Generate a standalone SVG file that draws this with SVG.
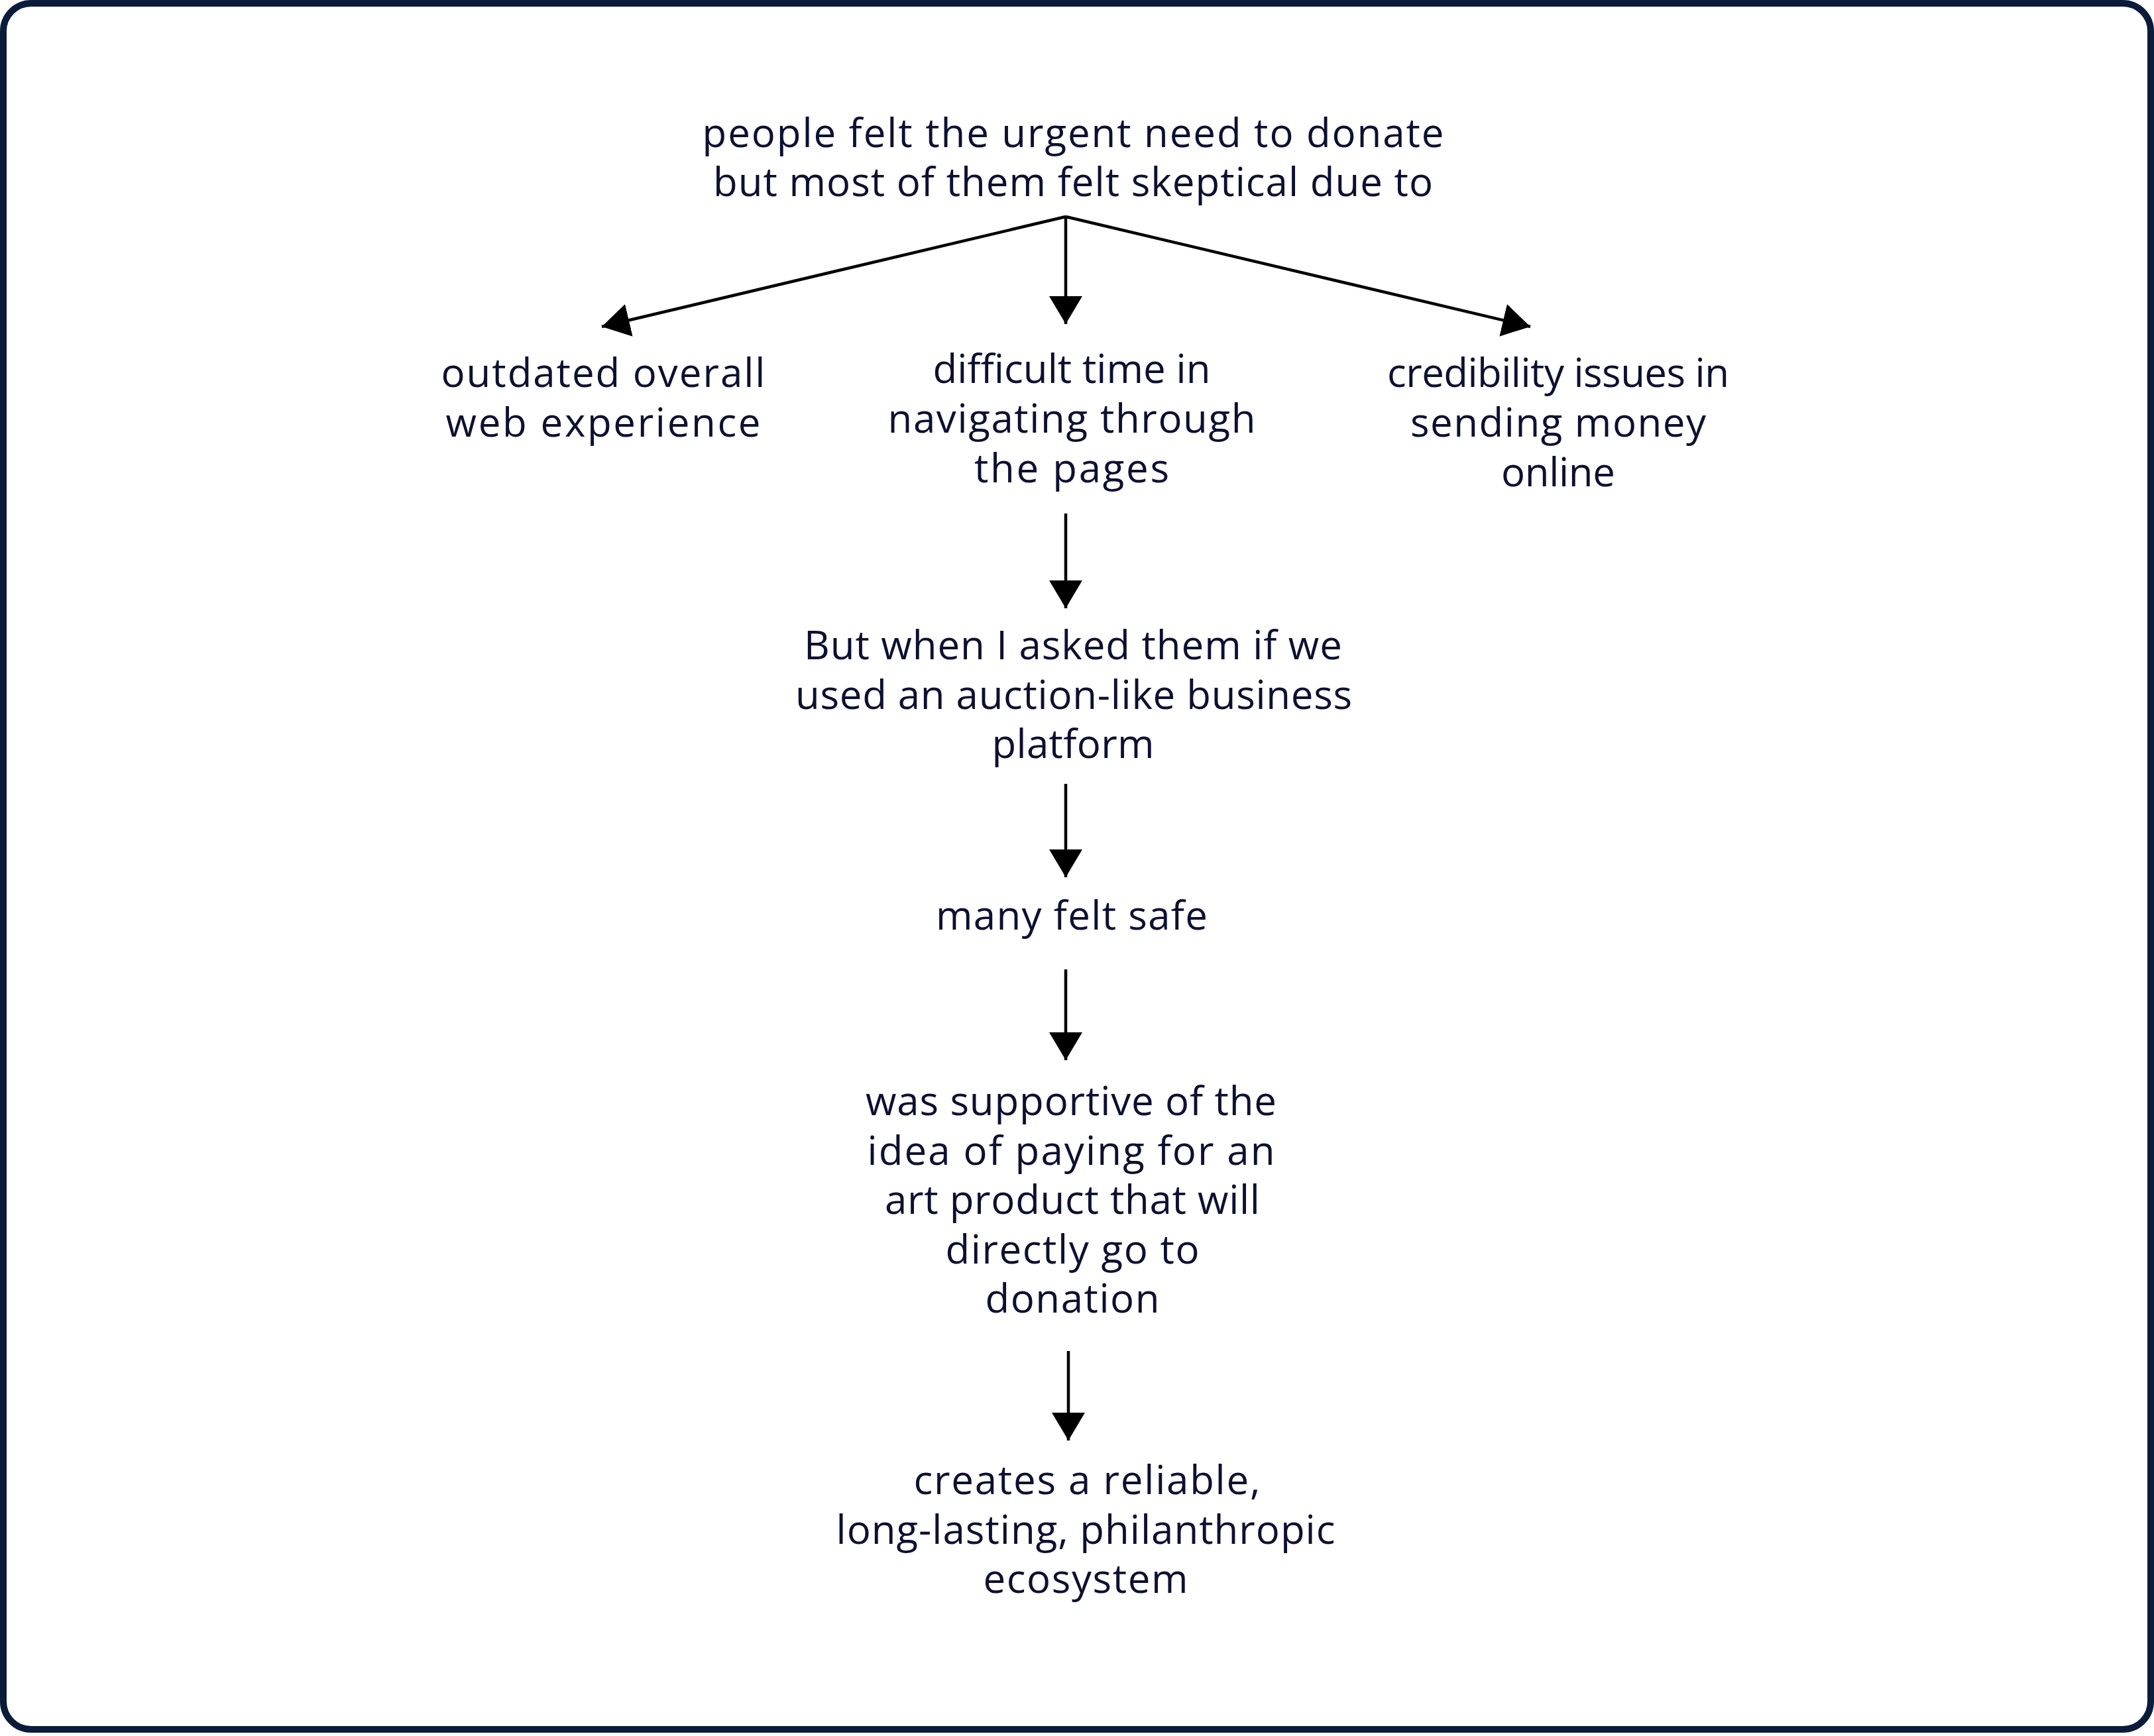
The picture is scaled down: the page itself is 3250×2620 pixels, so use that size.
<svg xmlns="http://www.w3.org/2000/svg" width="3250" height="2620" viewBox="0 0 3250 2620">
<defs>
<style>
.t{font-family:"Open Sans","Liberation Sans",sans-serif;font-size:60px;fill:#0d1030;text-anchor:middle}
.c{stroke:#000;stroke-width:4.5;fill:none;marker-end:url(#ah)}
</style>
<marker id="ah" viewBox="0 0 42 50" refX="42" refY="25" markerWidth="42" markerHeight="50" markerUnits="userSpaceOnUse" orient="auto">
<path d="M0,0 L42,25 L0,50 Z" fill="#000"/>
</marker>
</defs>
<rect x="0" y="0" width="3250" height="2620" fill="#fff"/>
<rect x="5" y="5" width="3240" height="2605" rx="42" ry="42" fill="#fff" stroke="#0a1c3a" stroke-width="10"/>
<g id="connectors">
<line class="c" x1="1608" y1="327" x2="908" y2="493"/>
<line class="c" x1="1608" y1="327" x2="1608" y2="489"/>
<line class="c" x1="1608" y1="327" x2="2309" y2="493"/>
<line class="c" x1="1608" y1="775" x2="1608" y2="918"/>
<line class="c" x1="1608" y1="1183" x2="1608" y2="1324"/>
<line class="c" x1="1608" y1="1463" x2="1608" y2="1600"/>
<line class="c" x1="1612" y1="2039" x2="1612" y2="2174"/>
</g>
<g id="n-root">
<text class="t" x="1619" y="222" textLength="1119">people felt the urgent need to donate</text>
<text class="t" x="1619" y="296" textLength="1086">but most of them felt skeptical due to</text>
</g>
<g id="n-outdated">
<text class="t" x="910" y="584" textLength="489">outdated overall</text>
<text class="t" x="910" y="659" textLength="475">web experience</text>
</g>
<g id="n-difficult">
<text class="t" x="1617" y="578" textLength="419">difficult time in</text>
<text class="t" x="1617" y="653" textLength="555">navigating through</text>
<text class="t" x="1617" y="728" textLength="294">the pages</text>
</g>
<g id="n-credibility">
<text class="t" x="2351" y="584" textLength="516">credibility issues in</text>
<text class="t" x="2351" y="659" textLength="446">sending money</text>
<text class="t" x="2351" y="734" textLength="172">online</text>
</g>
<g id="n-auction">
<text class="t" x="1619" y="995" textLength="812">But when I asked them if we</text>
<text class="t" x="1620" y="1070" textLength="840">used an auction-like business</text>
<text class="t" x="1619" y="1144" textLength="245">platform</text>
</g>
<g id="n-safe">
<text class="t" x="1617" y="1403" textLength="410">many felt safe</text>
</g>
<g id="n-supportive">
<text class="t" x="1616" y="1683" textLength="620">was supportive of the</text>
<text class="t" x="1616" y="1758" textLength="615">idea of paying for an</text>
<text class="t" x="1618" y="1832" textLength="566">art product that will</text>
<text class="t" x="1618" y="1907" textLength="383">directly go to</text>
<text class="t" x="1618" y="1981" textLength="263">donation</text>
</g>
<g id="n-ecosystem">
<text class="t" x="1640" y="2255" textLength="523">creates a reliable,</text>
<text class="t" x="1638" y="2330" textLength="753">long-lasting, philanthropic</text>
<text class="t" x="1638" y="2404" textLength="309">ecosystem</text>
</g>
</svg>
